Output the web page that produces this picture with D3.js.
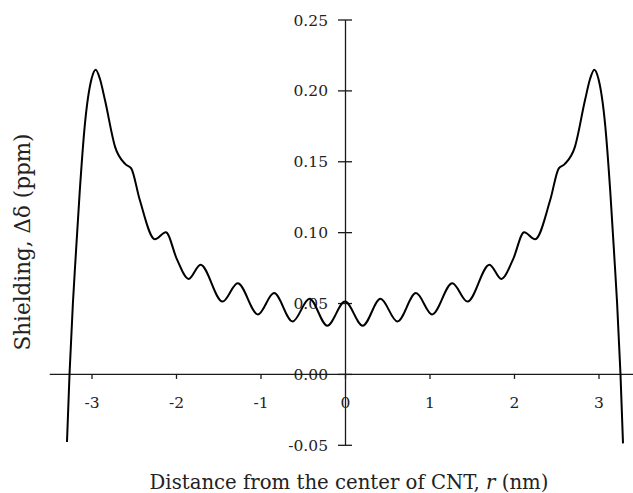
<!DOCTYPE html>
<html>
<head>
<meta charset="utf-8">
<script src="https://cdn.jsdelivr.net/npm/d3@7"></script>
<style>
  body { margin: 0; background: #fff; }
  svg { display: block; }
  .tick text { font-family: "DejaVu Serif", serif; font-size: 15.5px; fill: #222; }
  .title { font-family: "DejaVu Serif", serif; font-size: 19.7px; fill: #222; }
</style>
</head>
<body>
<svg width="633" height="493"></svg>
<script>
// distance from CNT centre (nm) and shielding (ppm)
let rValues = [-3.29, -3.26, -3.22, -3.19, -3.14, -3.08, -3.0, -2.95, -2.9, -2.84,
               -2.72, -2.6, -2.53, -2.43, -2.25, -2.12, -1.99, -1.85, -1.71, -1.45,
               -1.27, -1.03, -0.84, -0.62, -0.42, -0.21, 0,
               0.21, 0.42, 0.62, 0.84, 1.03, 1.27, 1.45, 1.71, 1.85, 1.99,
               2.12, 2.25, 2.43, 2.53, 2.6, 2.72, 2.84, 2.9, 2.95, 3.0,
               3.08, 3.14, 3.19, 3.22, 3.26, 3.29];

let shielding = [-0.048, 0.0, 0.05, 0.08, 0.128, 0.175, 0.208, 0.2146, 0.208, 0.193,
                 0.160, 0.148, 0.145, 0.123, 0.095, 0.100, 0.081, 0.067, 0.077, 0.051,
                 0.064, 0.042, 0.057, 0.037, 0.053, 0.034, 0.051,
                 0.034, 0.053, 0.037, 0.057, 0.042, 0.064, 0.051, 0.077, 0.067, 0.081,
                 0.100, 0.095, 0.123, 0.145, 0.148, 0.160, 0.193, 0.208, 0.2146, 0.208,
                 0.175, 0.128, 0.08, 0.05, 0.0, -0.049];

let xTicks = [-3, -2, -1, 0, 1, 2, 3],
    yTicks = [-0.05, 0, 0.05, 0.10, 0.15, 0.20, 0.25];

let svg = d3.select("svg");

let x = d3.scaleLinear().domain([-3.5, 3.5]).range([49.25, 640.75]),
    y = d3.scaleLinear().domain([-0.05, 0.25]).range([444.8, 19.5]);

let points = rValues.map(function(r, i) { return [r, shielding[i]]; });

let line = d3.line()
    .curve(d3.curveMonotoneX)
    .x(function(d) { return x(d[0]); })
    .y(function(d) { return y(d[1]); });

// plain hyphen for negatives, like the original
let hyphen = function(f) {
  return function(d) { return f(d).replace("\u2212", "-"); };
};

// y axis sits at r = 0, ticks cross the line
let yAxis = svg.append("g")
    .attr("transform", "translate(" + x(0) + ",0)")
    .call(d3.axisLeft(y)
        .tickValues(yTicks)
        .tickFormat(hyphen(d3.format(".2f")))
        .tickSizeInner(7)
        .tickSizeOuter(0)
        .tickPadding(10));

yAxis.selectAll(".tick line").attr("x2", 7).attr("x1", -7);
yAxis.selectAll(".tick text").attr("dy", "0.36em");

// x axis at 0, ticks below only
let xAxis = svg.append("g")
    .attr("transform", "translate(0," + y(0) + ")")
    .call(d3.axisBottom(x)
        .tickValues(xTicks)
        .tickFormat(hyphen(d3.format("d")))
        .tickSizeInner(5)
        .tickSizeOuter(0)
        .tickPadding(18));

svg.selectAll(".domain, .tick line")
    .attr("stroke", "#1a1a1a")
    .attr("stroke-width", 1.3);

svg.append("path")
    .datum(points)
    .attr("fill", "none")
    .attr("stroke", "#000")
    .attr("stroke-width", 2)
    .attr("d", line);

svg.append("text")
    .attr("class", "title")
    .attr("x", 349)
    .attr("y", 489)
    .attr("text-anchor", "middle")
    .html("Distance from the center of CNT, <tspan font-style='italic'>r</tspan> (nm)");

svg.append("text")
    .attr("class", "title")
    .attr("transform", "translate(30,242) rotate(-90)")
    .attr("text-anchor", "middle")
    .style("font-size", "21.5px")
    .text("Shielding, Δδ (ppm)");
</script>
</body>
</html>
